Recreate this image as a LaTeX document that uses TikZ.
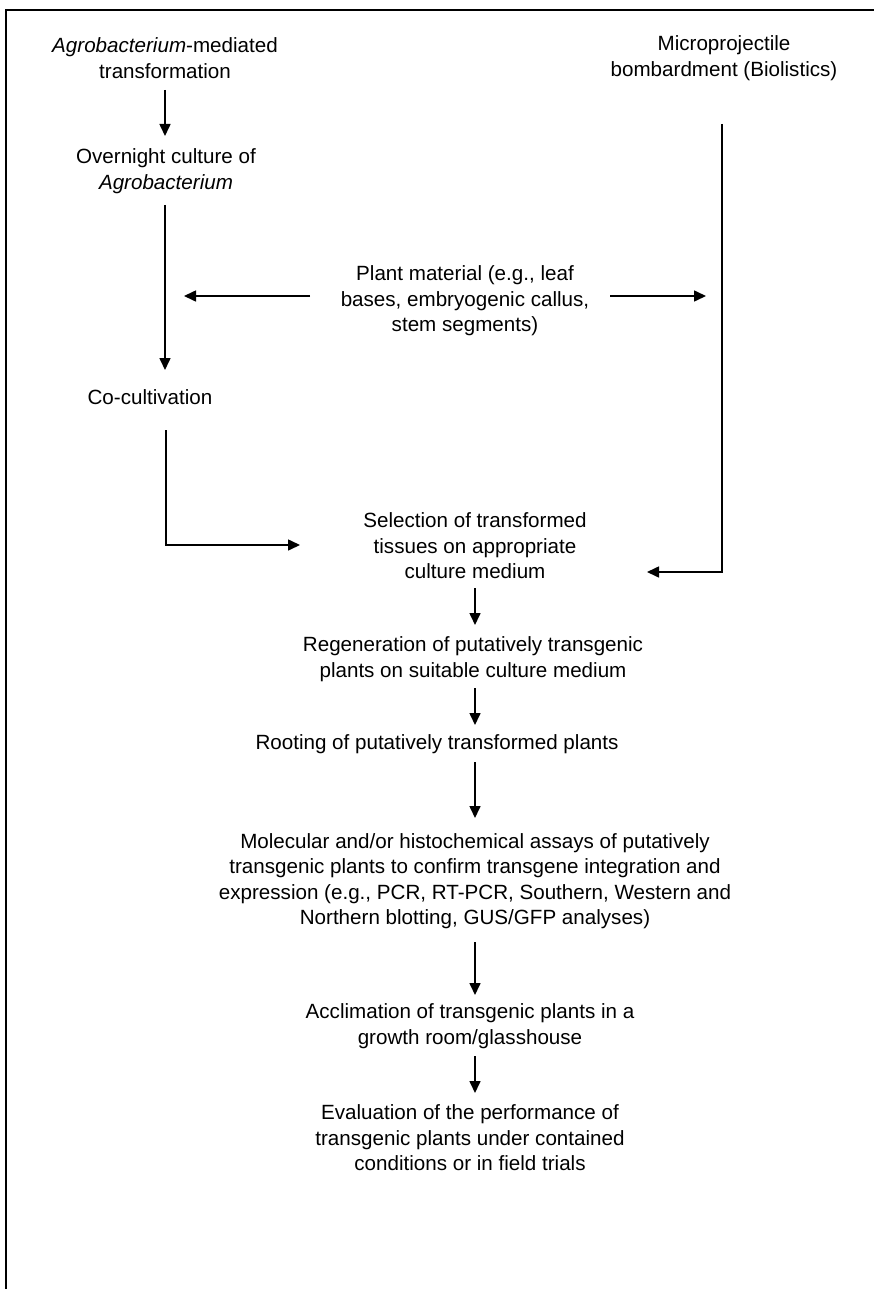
\documentclass[tikz,border=0pt]{standalone}
\usepackage{fontspec}
\setmainfont{Liberation Sans}
\usetikzlibrary{arrows.meta,calc}
\begin{document}
\begin{tikzpicture}[x=1pt,y=-1pt,
  txt/.style={align=center,inner sep=0pt,font=\fontsize{20.6}{25.5}\selectfont},
  arr/.style={line width=1.6pt,-{Triangle[length=12pt,width=11pt]}},
  ln/.style={line width=1.6pt}]
\useasboundingbox (0,0) rectangle (874,1289);
\draw[line width=2.2pt] (6,1289) -- (6,10) -- (874,10);

\node[txt] (agro) at (165,58) {\textit{Agrobacterium}-mediated\\transformation};
\node[txt] (micro) at (724,58) {Microprojectile\\bombardment (Biolistics)};
\node[txt] (over) at (166,171) {Overnight culture of\\\textit{Agrobacterium}};
\node[txt] (plant) at (465,301) {Plant material (e.g., leaf\\bases, embryogenic callus,\\stem segments)};
\node[txt] (cocult) at (150,397) {Co-cultivation};
\node[txt] (sel) at (475,546) {Selection of transformed\\tissues on appropriate\\culture medium};
\node[txt] (regen) at (473,659) {Regeneration of putatively transgenic\\plants on suitable culture medium};
\node[txt] (root) at (437,744) {Rooting of putatively transformed plants};
\node[txt] (mol) at (475,881) {Molecular and/or histochemical assays of putatively\\transgenic plants to confirm transgene integration and\\expression (e.g., PCR, RT-PCR, Southern, Western and\\Northern blotting, GUS/GFP analyses)};
\node[txt] (accl) at (470,1026) {Acclimation of transgenic plants in a\\growth room/glasshouse};
\node[txt] (eval) at (470,1138) {Evaluation of the performance of\\transgenic plants under contained\\conditions or in field trials};

% left column
\coordinate (a1) at (165,90);
\coordinate (a2) at (165,136);
\draw[arr] (a1) -- (a2);
\coordinate (o1) at (165,205);
\coordinate (o2) at (165,370);
\draw[arr] (o1) -- (o2);
\coordinate (c1) at (166,430);
\coordinate (c2) at (166,545);
\coordinate (c3) at (300,545);
\draw[arr] (c1) -- (c2) -- (c3);
% right column
\coordinate (m1) at (722,124);
\coordinate (m2) at (722,572);
\coordinate (m3) at (647,572);
\draw[arr] (m1) -- (m2) -- (m3);
% plant material arrows
\coordinate (pl1) at (310,296);
\coordinate (pl2) at (184,296);
\coordinate (pr1) at (610,296);
\coordinate (pr2) at (706,296);
\draw[arr] (pl1) -- (pl2);
\draw[arr] (pr1) -- (pr2);
% main chain
\draw[arr] (475,588) -- (475,625);
\draw[arr] (475,688) -- (475,725);
\draw[arr] (475,762) -- (475,818);
\draw[arr] (475,942) -- (475,995);
\draw[arr] (475,1056) -- (475,1093);
\end{tikzpicture}
\end{document}
